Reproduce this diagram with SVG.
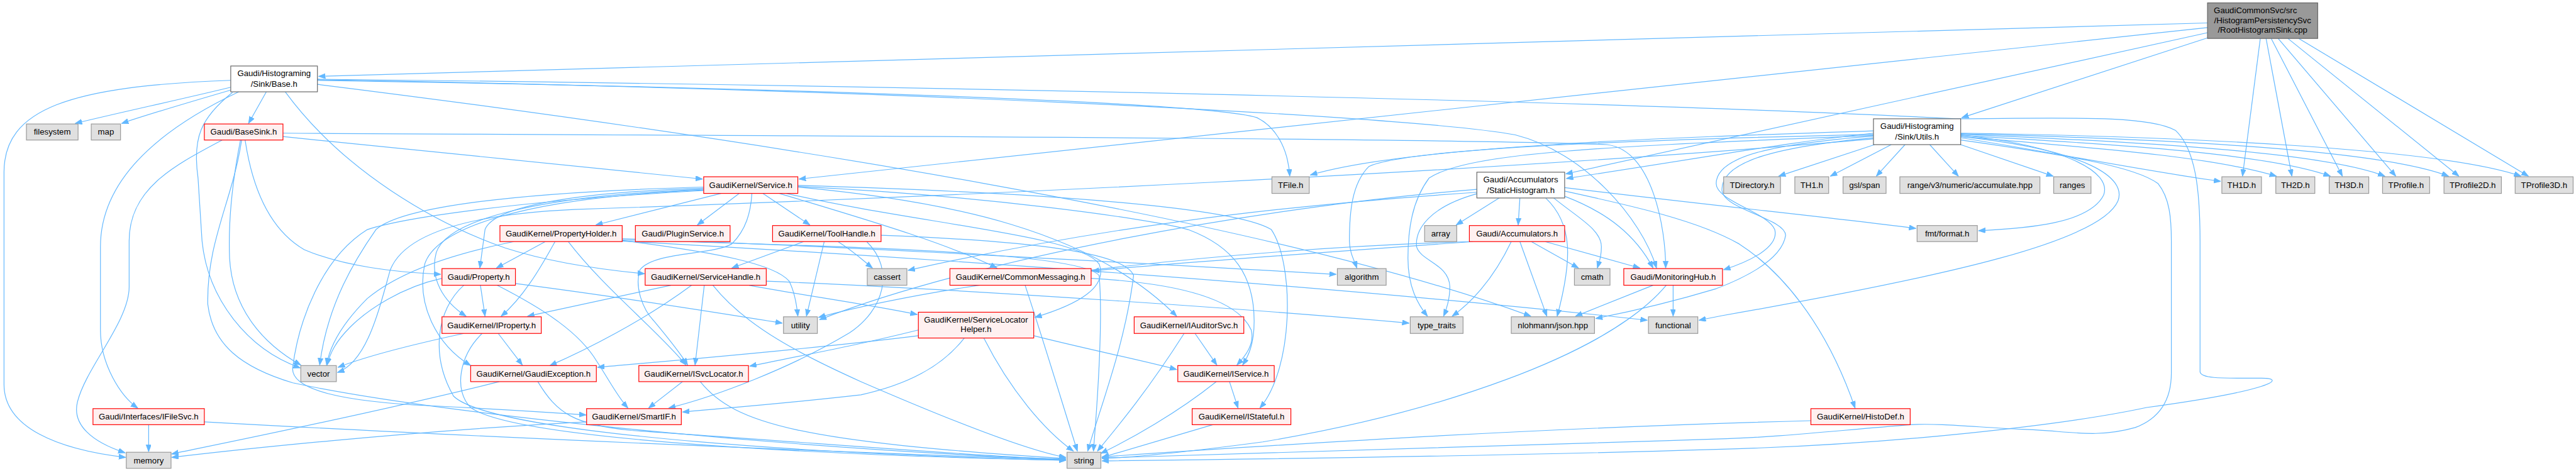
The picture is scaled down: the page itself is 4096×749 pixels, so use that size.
<svg xmlns="http://www.w3.org/2000/svg" width="4096" height="749" viewBox="0 0 4096 749">
<style>
.n rect{stroke-width:1.3}
.r rect{fill:#fff0f0;stroke:#ff0000}
.g rect{fill:#e0e0e0;stroke:#999999}
.w rect{fill:#ffffff;stroke:#666666}
.k rect{fill:#999999;stroke:#666666}
text{font-family:"Liberation Sans",Arial,Helvetica,sans-serif;font-size:14.5px;fill:#000;text-anchor:middle}
#edges path{fill:none;stroke:#63b8ff;stroke-width:1.3;marker-end:url(#a)}
</style>
<defs>
<marker id="a" markerUnits="userSpaceOnUse" markerWidth="13" markerHeight="10" refX="12" refY="4.5" orient="auto"><path d="M0,0 L12,4.5 L0,9 z" fill="#63b8ff" stroke="#63b8ff" stroke-width="1"/></marker>
</defs>
<rect width="4096" height="749" fill="#ffffff"/>
<g transform="scale(0.912656)">
<g id="edges">
<path d="M3846,40 L555,133"/>
<path d="M3846,48 L1392,312"/>
<path d="M3846,57 L2728,303"/>
<path d="M3846,66 L3418,205"/>
<path d="M3938,67 L3907,307"/>
<path d="M3948,67 L3993,307"/>
<path d="M3957,67 L4081,307"/>
<path d="M3969,67 L4174,307"/>
<path d="M3986,67 L4284,307"/>
<path d="M4005,67 L4405,307"/>
<path d="M402,152 C320,172 200,198 131,215"/>
<path d="M402,157 C330,178 255,200 212,215"/>
<path d="M464,160 L433,215"/>
<path d="M402,140 C120,150 7,190 7,300 L7,670 C7,745 100,783 219,797"/>
<path d="M416,160 C300,215 175,300 175,430 L175,575 C175,635 210,690 240,711"/>
<path d="M405,161 C350,205 335,240 345,310 L352,420 C362,520 430,608 523,641"/>
<path d="M497,160 C600,300 760,390 880,432 C960,458 1050,470 1123,477"/>
<path d="M553,147 C1300,240 2200,380 2667,551"/>
<path d="M553,140 C1200,150 2100,175 2190,205 C2230,225 2245,270 2247,307"/>
<path d="M553,139 C1500,155 2450,200 2640,235 C2760,265 2860,380 2886,467"/>
<path d="M553,138 C1500,148 2800,175 3407,207 C3600,206 3740,200 3790,227 C3825,260 3833,330 3833,420 L3833,648 C3835,660 3870,659 3940,659 C3985,659 3960,680 3740,710 C3600,740 3300,775 2990,783 C2600,795 2200,800 1920,803"/>
<path d="M493,232 C1200,236 2500,240 2800,252 C2880,262 2902,400 2902,467"/>
<path d="M427,244 C440,330 470,400 530,435 C600,465 690,474 768,478"/>
<path d="M493,238 C700,258 1000,290 1224,312"/>
<path d="M421,244 C405,350 360,420 362,530 C370,600 420,640 510,667 C800,730 1500,790 1857,800"/>
<path d="M419,244 C402,330 398,400 400,450 C405,540 460,600 524,636"/>
<path d="M387,244 C300,290 225,330 225,420 L225,500 C225,560 150,640 135,700 C125,740 160,770 218,789"/>
<path d="M259,740 L259,787"/>
<path d="M356,735 C800,760 1500,790 1857,801"/>
<path d="M1256,337 L1038,392"/>
<path d="M1288,337 L1215,392"/>
<path d="M1329,337 L1411,392"/>
<path d="M1310,337 C1308,370 1300,400 1275,425 C1240,445 1140,438 1115,470 C1105,500 1120,540 1140,560 C1165,590 1185,615 1198,636"/>
<path d="M1226,328 C1000,335 860,360 845,400 L836,467"/>
<path d="M1226,330 C950,340 780,380 760,440 C748,485 772,525 812,551"/>
<path d="M1226,331 C900,345 760,400 740,460 C725,530 760,600 820,637"/>
<path d="M1226,326 C900,335 700,360 655,400 C620,450 570,530 557,636"/>
<path d="M1226,332 C900,350 700,380 640,400 C560,450 520,560 510,640 C505,680 600,700 750,707 C850,712 950,718 1021,723"/>
<path d="M1358,337 C1500,380 1640,420 1737,467"/>
<path d="M1390,326 C1650,350 1900,400 2050,551"/>
<path d="M1390,325 C1700,340 2000,380 2070,400 C2150,430 2185,480 2185,560 C2185,600 2175,620 2165,636"/>
<path d="M1390,323 C1800,335 2150,360 2215,400 C2255,460 2255,640 2195,711"/>
<path d="M1370,337 C1600,390 1880,410 1915,460 C1930,500 1880,530 1803,553"/>
<path d="M1169,497 L919,551"/>
<path d="M1205,497 C1120,560 1020,610 958,637"/>
<path d="M1227,497 L1211,636"/>
<path d="M1242,497 C1300,570 1400,620 1500,665 C1650,730 1790,785 1857,797"/>
<path d="M1305,497 C1400,515 1500,528 1598,548"/>
<path d="M1335,490 C1700,505 2200,540 2455,563"/>
<path d="M1400,421 L1275,467"/>
<path d="M1436,421 L1405,551"/>
<path d="M1460,421 C1490,440 1505,455 1520,467"/>
<path d="M1510,421 C1560,470 1540,540 1480,580 C1380,640 1250,690 1165,711"/>
<path d="M1535,410 C1800,420 1960,440 1975,480 C1960,600 1920,700 1895,786"/>
<path d="M837,497 L845,551"/>
<path d="M898,494 C1100,520 1250,545 1363,563"/>
<path d="M866,497 C950,540 1010,580 1040,630 C1060,660 1075,690 1094,711"/>
<path d="M808,497 C760,540 750,620 790,690 C860,760 1500,795 1857,802"/>
<path d="M770,485 C700,500 640,540 610,570 C585,595 575,615 570,636"/>
<path d="M868,581 L910,636"/>
<path d="M808,581 C720,600 640,620 589,640"/>
<path d="M840,581 C800,620 790,680 820,710 C900,770 1500,795 1857,802"/>
<path d="M870,665 C650,720 400,770 299,791"/>
<path d="M937,665 C970,720 1000,740 1100,750 C1400,770 1700,795 1857,801"/>
<path d="M1189,665 L1130,711"/>
<path d="M1220,665 C1280,740 1400,770 1857,799"/>
<path d="M1022,735 C700,752 400,785 299,797"/>
<path d="M950,421 L865,467"/>
<path d="M967,421 C940,470 910,520 873,551"/>
<path d="M990,421 C1050,500 1150,580 1195,636"/>
<path d="M895,421 C800,440 700,470 640,520 C600,560 575,600 569,636"/>
<path d="M1084,419 C1250,440 1350,460 1375,490 C1385,510 1388,530 1390,551"/>
<path d="M1084,416 C1500,430 2000,460 2328,478"/>
<path d="M1084,420 C1500,443 2250,490 2870,558"/>
<path d="M1084,418 C1500,430 1880,440 1915,480 C1922,560 1912,700 1905,786"/>
<path d="M1786,497 C1820,600 1850,700 1877,786"/>
<path d="M1901,485 C2080,495 2160,530 2180,575 C2186,600 2170,620 2155,636"/>
<path d="M1801,585 C1900,610 2000,630 2050,644"/>
<path d="M1714,589 C1760,680 1820,750 1870,786"/>
<path d="M1600,585 C1400,610 1150,630 1041,640"/>
<path d="M1600,575 C1500,600 1420,615 1306,638"/>
<path d="M1680,589 C1640,640 1580,670 1500,688 C1350,705 1250,712 1189,718"/>
<path d="M2082,581 L2120,636"/>
<path d="M2063,581 C2000,680 1950,740 1912,786"/>
<path d="M2142,665 L2157,711"/>
<path d="M2119,665 C2050,720 1970,765 1918,790"/>
<path d="M2113,740 L1920,797"/>
<path d="M2633,421 C2600,490 2560,530 2530,551"/>
<path d="M2648,421 L2695,551"/>
<path d="M2668,421 L2750,467"/>
<path d="M2692,421 L2857,467"/>
<path d="M2566,421 C2300,440 2050,458 1903,472"/>
<path d="M2562,421 C2200,432 1700,480 1426,553"/>
<path d="M2574,335 C2200,360 1900,400 1582,471"/>
<path d="M2612,345 L2537,392"/>
<path d="M2648,345 L2645,392"/>
<path d="M2575,337 C2490,360 2465,400 2468,430 C2475,455 2525,460 2526,500 C2526,520 2520,540 2515,551"/>
<path d="M2693,345 C2740,390 2740,450 2713,551"/>
<path d="M2707,345 C2750,380 2790,400 2790,430 C2790,450 2785,460 2783,467"/>
<path d="M2726,342 C2800,370 2850,410 2880,467"/>
<path d="M2726,327 C3000,360 3200,380 3338,398"/>
<path d="M2726,333 C2850,360 2960,385 3030,425 C3100,470 3180,560 3232,711"/>
<path d="M2573,330 C2200,360 1700,450 1428,557"/>
<path d="M3266,252 L3099,307"/>
<path d="M3295,252 L3189,307"/>
<path d="M3319,252 L3269,307"/>
<path d="M3362,252 L3412,307"/>
<path d="M3416,252 L3577,307"/>
<path d="M3416,240 C3600,270 3750,300 3869,316"/>
<path d="M3416,238 C3650,258 3850,272 3966,307"/>
<path d="M3416,236 C3700,252 3950,268 4060,307"/>
<path d="M3416,234 C3750,248 4050,266 4155,307"/>
<path d="M3416,233 C3800,243 4150,262 4266,307"/>
<path d="M3416,232 C3800,238 4250,258 4392,307"/>
<path d="M3416,235 C3600,255 3680,300 3665,340 C3640,390 3530,398 3447,402"/>
<path d="M3416,238 C3640,262 3705,310 3690,350 C3660,420 3400,480 3000,550 L2960,558"/>
<path d="M3416,244 C3600,270 3720,290 3760,320 C3780,345 3783,380 3783,420 L3783,650 C3783,700 3760,730 3720,745 C3650,765 3600,750 3523,748 C3450,745 3380,737 3329,740 C3200,750 3100,762 2990,765 C2600,778 2200,790 1920,798"/>
<path d="M3264,237 C3100,250 2990,270 2990,320 C2990,350 3080,370 3092,400 C3100,430 3050,455 3003,470"/>
<path d="M3264,240 C3100,255 3000,280 3000,330 C3000,365 3110,380 3111,410 C3105,450 3050,480 2990,503 C2900,530 2830,545 2780,555"/>
<path d="M3264,232 C3100,250 3000,270 2729,311"/>
<path d="M3264,228 C2900,240 2450,255 2283,305"/>
<path d="M3264,234 C2800,245 2450,260 2385,290 C2355,320 2351,370 2351,420 C2351,440 2360,455 2364,467"/>
<path d="M3264,236 C2800,255 2560,265 2490,310 C2460,350 2453,400 2453,450 C2453,500 2470,530 2487,551"/>
<path d="M3264,242 C2600,300 1600,345 1000,365 C780,375 700,420 680,470 C660,540 640,630 588,649"/>
<path d="M2880,497 L2745,551"/>
<path d="M2915,497 L2915,551"/>
<path d="M2903,497 C2800,620 2500,720 2200,770 C2050,790 1970,797 1920,799"/>
<path d="M3155,733 C2700,745 2300,770 1920,796"/>
</g>
<g id="n-root" class="n k"><rect x="3846" y="5" width="192" height="62"/><text x="3857" y="23.5" style="text-anchor:start">GaudiCommonSvc/src</text><text x="3942" y="40">/HistogramPersistencySvc</text><text x="3942" y="57">/RootHistogramSink.cpp</text></g>
<g id="n-base" class="n w"><rect x="402" y="115" width="151" height="45"/><text x="477.5" y="133">Gaudi/Histograming</text><text x="477.5" y="151">/Sink/Base.h</text></g>
<g id="n-utils" class="n w"><rect x="3264" y="207" width="152" height="45"/><text x="3340" y="225">Gaudi/Histograming</text><text x="3340" y="243">/Sink/Utils.h</text></g>
<g id="n-stat" class="n w"><rect x="2573" y="300" width="153" height="45"/><text x="2649.5" y="318">Gaudi/Accumulators</text><text x="2649.5" y="336">/StaticHistogram.h</text></g>
<g id="n-basesink" class="n r"><rect x="356" y="216" width="137" height="28"/><text x="424.5" y="235">Gaudi/BaseSink.h</text></g>
<g id="n-service" class="n r"><rect x="1226" y="308" width="164" height="29"/><text x="1308" y="327.5">GaudiKernel/Service.h</text></g>
<g id="n-ifilesvc" class="n r"><rect x="162" y="712" width="194" height="28"/><text x="259" y="731">Gaudi/Interfaces/IFileSvc.h</text></g>
<g id="n-filesystem" class="n g"><rect x="46" y="216" width="90" height="28"/><text x="91" y="235">filesystem</text></g>
<g id="n-map" class="n g"><rect x="159" y="216" width="51" height="28"/><text x="184.5" y="235">map</text></g>
<g id="n-tfile" class="n g"><rect x="2216" y="308" width="65" height="29"/><text x="2248.5" y="327.5">TFile.h</text></g>
<g id="n-propholder" class="n r"><rect x="871" y="393" width="213" height="28"/><text x="977.5" y="412">GaudiKernel/PropertyHolder.h</text></g>
<g id="n-plugin" class="n r"><rect x="1107" y="393" width="165" height="28"/><text x="1189.5" y="412">Gaudi/PluginService.h</text></g>
<g id="n-toolhandle" class="n r"><rect x="1346" y="393" width="189" height="28"/><text x="1440.5" y="412">GaudiKernel/ToolHandle.h</text></g>
<g id="n-property" class="n r"><rect x="770" y="468" width="128" height="29"/><text x="834" y="487.5">Gaudi/Property.h</text></g>
<g id="n-svchandle" class="n r"><rect x="1124" y="468" width="211" height="29"/><text x="1229.5" y="487.5">GaudiKernel/ServiceHandle.h</text></g>
<g id="n-iproperty" class="n r"><rect x="770" y="552" width="173" height="29"/><text x="856.5" y="571.5">GaudiKernel/IProperty.h</text></g>
<g id="n-utility" class="n g"><rect x="1365" y="552" width="59" height="29"/><text x="1394.5" y="571.5">utility</text></g>
<g id="n-gexc" class="n r"><rect x="820" y="637" width="219" height="28"/><text x="929.5" y="656">GaudiKernel/GaudiException.h</text></g>
<g id="n-isvcloc" class="n r"><rect x="1113" y="637" width="191" height="28"/><text x="1208.5" y="656">GaudiKernel/ISvcLocator.h</text></g>
<g id="n-smartif" class="n r"><rect x="1022" y="712" width="165" height="28"/><text x="1104.5" y="731">GaudiKernel/SmartIF.h</text></g>
<g id="n-cassert" class="n g"><rect x="1511" y="468" width="69" height="29"/><text x="1545.5" y="487.5">cassert</text></g>
<g id="n-commsg" class="n r"><rect x="1655" y="468" width="246" height="29"/><text x="1778" y="487.5">GaudiKernel/CommonMessaging.h</text></g>
<g id="n-slh" class="n r"><rect x="1600" y="544" width="201" height="45"/><text x="1700.5" y="562">GaudiKernel/ServiceLocator</text><text x="1700.5" y="579">Helper.h</text></g>
<g id="n-iauditor" class="n r"><rect x="1976" y="552" width="191" height="29"/><text x="2071.5" y="571.5">GaudiKernel/IAuditorSvc.h</text></g>
<g id="n-iservice" class="n r"><rect x="2052" y="637" width="168" height="28"/><text x="2136" y="656">GaudiKernel/IService.h</text></g>
<g id="n-istateful" class="n r"><rect x="2077" y="712" width="172" height="28"/><text x="2163" y="731">GaudiKernel/IStateful.h</text></g>
<g id="n-string" class="n g"><rect x="1859" y="788" width="59" height="28"/><text x="1888.5" y="807">string</text></g>
<g id="n-vector" class="n g"><rect x="524" y="637" width="62" height="28"/><text x="555" y="656">vector</text></g>
<g id="n-memory" class="n g"><rect x="220" y="788" width="78" height="28"/><text x="259" y="807">memory</text></g>
<g id="n-array" class="n g"><rect x="2482" y="393" width="56" height="28"/><text x="2510" y="412">array</text></g>
<g id="n-accum" class="n r"><rect x="2560" y="393" width="166" height="28"/><text x="2643" y="412">Gaudi/Accumulators.h</text></g>
<g id="n-algorithm" class="n g"><rect x="2330" y="468" width="85" height="29"/><text x="2372.5" y="487.5">algorithm</text></g>
<g id="n-cmath" class="n g"><rect x="2743" y="468" width="62" height="29"/><text x="2774" y="487.5">cmath</text></g>
<g id="n-monhub" class="n r"><rect x="2829" y="468" width="172" height="29"/><text x="2915" y="487.5">Gaudi/MonitoringHub.h</text></g>
<g id="n-typetraits" class="n g"><rect x="2457" y="552" width="92" height="29"/><text x="2503" y="571.5">type_traits</text></g>
<g id="n-json" class="n g"><rect x="2633" y="552" width="145" height="29"/><text x="2705.5" y="571.5">nlohmann/json.hpp</text></g>
<g id="n-functional" class="n g"><rect x="2872" y="552" width="86" height="29"/><text x="2915" y="571.5">functional</text></g>
<g id="n-fmt" class="n g"><rect x="3340" y="393" width="105" height="28"/><text x="3392.5" y="412">fmt/format.h</text></g>
<g id="n-histodef" class="n r"><rect x="3155" y="712" width="173" height="28"/><text x="3241.5" y="731">GaudiKernel/HistoDef.h</text></g>
<g id="n-tdir" class="n g"><rect x="3003" y="308" width="99" height="29"/><text x="3052.5" y="327.5">TDirectory.h</text></g>
<g id="n-th1" class="n g"><rect x="3127" y="308" width="59" height="29"/><text x="3156.5" y="327.5">TH1.h</text></g>
<g id="n-gsl" class="n g"><rect x="3211" y="308" width="75" height="29"/><text x="3248.5" y="327.5">gsl/span</text></g>
<g id="n-range" class="n g"><rect x="3310" y="308" width="244" height="29"/><text x="3432" y="327.5">range/v3/numeric/accumulate.hpp</text></g>
<g id="n-ranges" class="n g"><rect x="3578" y="308" width="65" height="29"/><text x="3610.5" y="327.5">ranges</text></g>
<g id="n-th1d" class="n g"><rect x="3871" y="308" width="69" height="29"/><text x="3905.5" y="327.5">TH1D.h</text></g>
<g id="n-th2d" class="n g"><rect x="3965" y="308" width="68" height="29"/><text x="3999" y="327.5">TH2D.h</text></g>
<g id="n-th3d" class="n g"><rect x="4058" y="308" width="69" height="29"/><text x="4092.5" y="327.5">TH3D.h</text></g>
<g id="n-tprof" class="n g"><rect x="4151" y="308" width="82" height="29"/><text x="4192" y="327.5">TProfile.h</text></g>
<g id="n-tprof2d" class="n g"><rect x="4258" y="308" width="100" height="29"/><text x="4308" y="327.5">TProfile2D.h</text></g>
<g id="n-tprof3d" class="n g"><rect x="4382" y="308" width="101" height="29"/><text x="4432.5" y="327.5">TProfile3D.h</text></g>
</g>
</svg>
